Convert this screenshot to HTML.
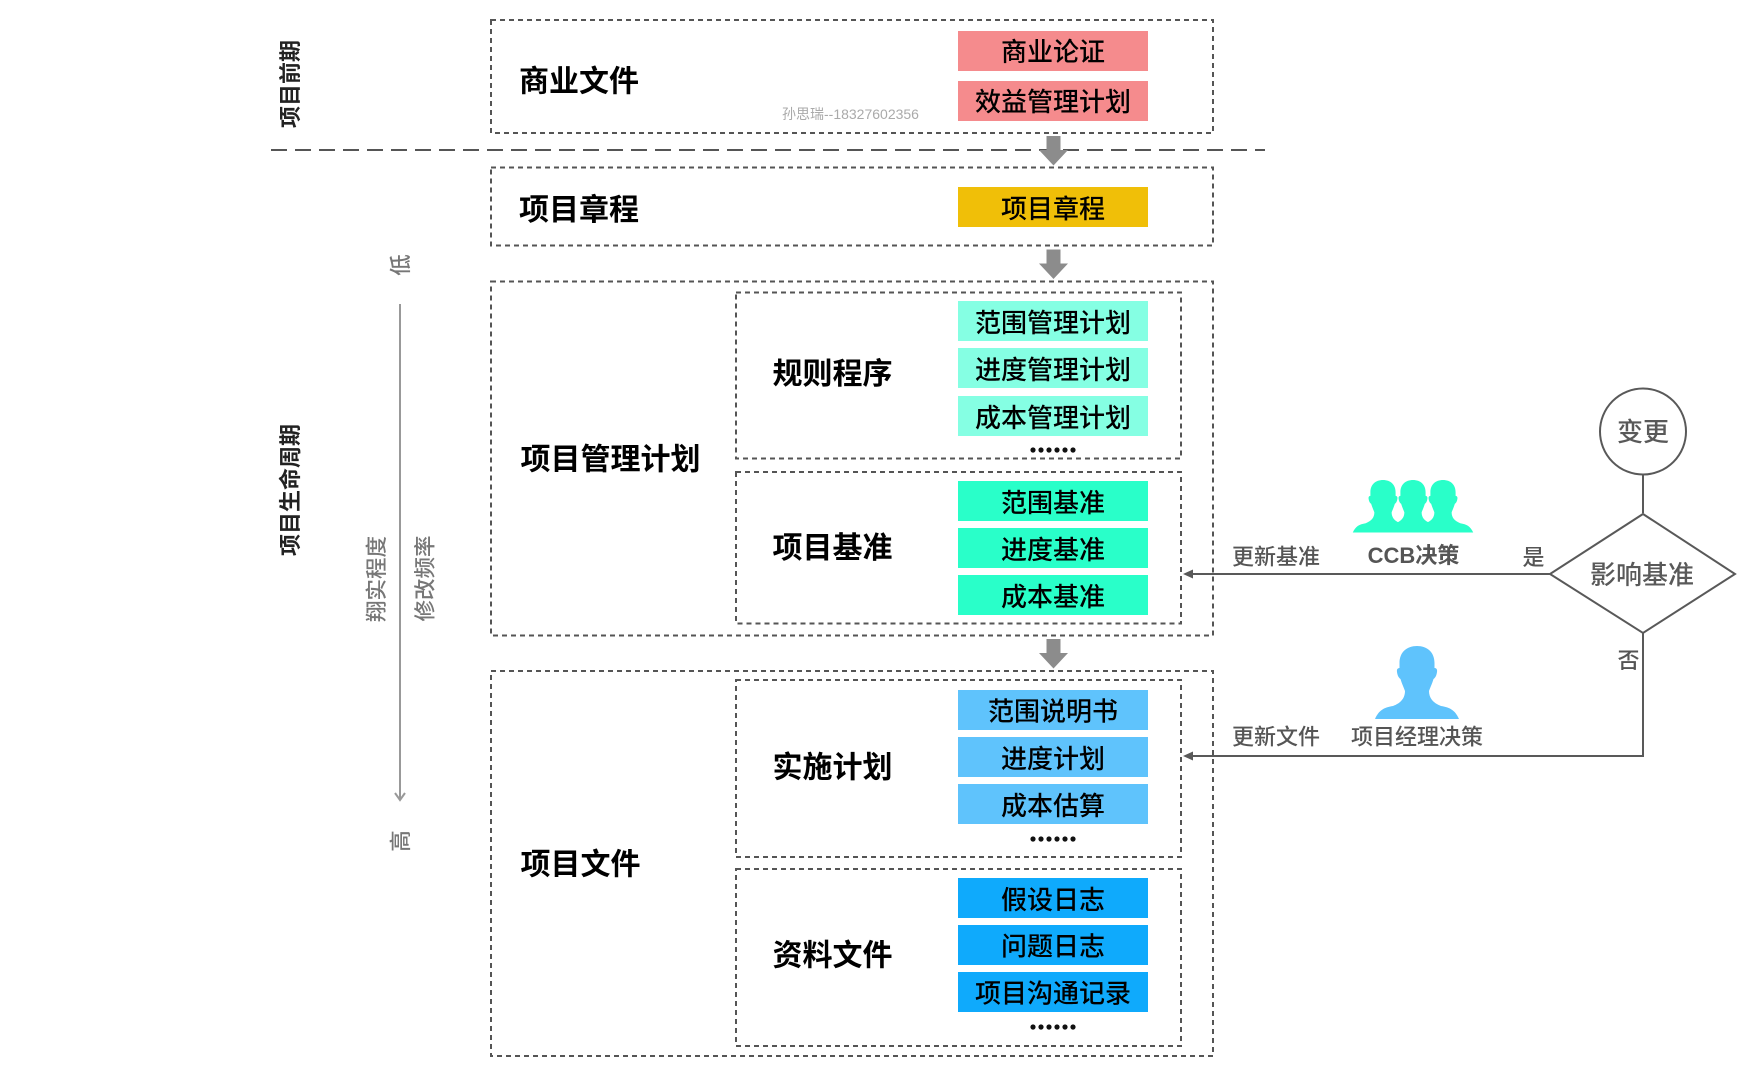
<!DOCTYPE html>
<html><head><meta charset="utf-8"><style>
html,body{margin:0;padding:0;background:#fff}
svg{display:block}
text{font-family:"Liberation Sans","Noto Sans CJK SC",sans-serif}
.d{fill:none;stroke:#555;stroke-width:2;stroke-dasharray:5 4}
.big{font-size:30px;font-weight:700;fill:#000;text-anchor:start}
.c{font-size:26px;font-weight:500;fill:#000;text-anchor:middle}
.g{font-size:22px;font-weight:500;fill:#555;text-anchor:middle}
.v{font-size:22px;font-weight:700;fill:#222;text-anchor:middle}
.q{font-size:21.5px;font-weight:500;fill:#777;text-anchor:middle}
.f{font-size:26px;font-weight:500;fill:#595959;text-anchor:middle}
.dot{fill:#111}
</style></head><body>
<svg width="1756" height="1072" viewBox="0 0 1756 1072" xmlns="http://www.w3.org/2000/svg">
<defs>
<path id="p" d="M0 0C10 0 17.5 6 17.5 17L17.5 22C19 22 20.5 23 20 26C19.5 30 18 32 16.5 33C15 38 13 42 12 45C12 52 16 57 24 60C33 61.5 38 64 42 73L-42 73C-38 64-33 61.5-24 60C-16 57-12 52-12 45C-13 42-15 38-16.5 33C-18 32-19.5 30-20 26C-20.5 23-19 22-17.5 22L-17.5 17C-17.5 6-10 0 0 0Z"/>
<g id="dots" class="dot"><circle cx="-20" r="2.6"/><circle cx="-12" r="2.6"/><circle cx="-4" r="2.6"/><circle cx="4" r="2.6"/><circle cx="12" r="2.6"/><circle cx="20" r="2.6"/></g>
<path id="a" d="M-7 0H7V14H14.5L0 29.5L-14.5 14H-7Z" fill="#8c8c8c"/>
</defs>

<!-- dashed boxes -->
<rect class="d" x="491" y="20" width="722" height="113"/>
<rect class="d" x="491" y="167.5" width="722" height="78"/>
<rect class="d" x="491" y="281.5" width="722" height="354"/>
<rect class="d" x="491" y="671" width="722" height="385"/>
<rect class="d" x="736" y="292.5" width="445" height="166"/>
<rect class="d" x="736" y="472" width="445" height="151.5"/>
<rect class="d" x="736" y="680" width="445" height="177"/>
<rect class="d" x="736" y="869" width="445" height="177"/>

<!-- separator -->
<line x1="271" y1="150" x2="1265" y2="150" stroke="#555" stroke-width="2" stroke-dasharray="16 8"/>

<!-- flow arrows -->
<use href="#a" x="1053.5" y="136"/>
<use href="#a" x="1053.5" y="249.5"/>
<use href="#a" x="1053.5" y="639"/>

<!-- coloured boxes -->
<g fill="#F58B8D"><rect x="958" y="31" width="190" height="40"/><rect x="958" y="81" width="190" height="40"/></g>
<rect x="958" y="187" width="190" height="40" fill="#F0BF08"/>
<g fill="#85FFE3"><rect x="958" y="301" width="190" height="40"/><rect x="958" y="348" width="190" height="40"/><rect x="958" y="396" width="190" height="40"/></g>
<g fill="#29FFC9"><rect x="958" y="481" width="190" height="40"/><rect x="958" y="528" width="190" height="40"/><rect x="958" y="575" width="190" height="40"/></g>
<g fill="#5FC3FC"><rect x="958" y="690" width="190" height="40"/><rect x="958" y="737" width="190" height="40"/><rect x="958" y="784" width="190" height="40"/></g>
<g fill="#0FAAFC"><rect x="958" y="878" width="190" height="40"/><rect x="958" y="925" width="190" height="40"/><rect x="958" y="972" width="190" height="40"/></g>

<!-- box labels -->
<text class="c" x="1053" y="61">商业论证</text>
<text class="c" x="1053" y="111">效益管理计划</text>
<text class="c" x="1053" y="218">项目章程</text>
<text class="c" x="1053" y="332">范围管理计划</text>
<text class="c" x="1053" y="379">进度管理计划</text>
<text class="c" x="1053" y="427">成本管理计划</text>
<text class="c" x="1053" y="512">范围基准</text>
<text class="c" x="1053" y="559">进度基准</text>
<text class="c" x="1053" y="606">成本基准</text>
<text class="c" x="1053" y="720.5">范围说明书</text>
<text class="c" x="1053" y="768">进度计划</text>
<text class="c" x="1053" y="815">成本估算</text>
<text class="c" x="1053" y="909">假设日志</text>
<text class="c" x="1053" y="955.5">问题日志</text>
<text class="c" x="1053" y="1002.5">项目沟通记录</text>
<use href="#dots" x="1053" y="450"/>
<use href="#dots" x="1053" y="839"/>
<use href="#dots" x="1053" y="1027"/>

<!-- section labels -->
<text class="big" x="519" y="91.5">商业文件</text>
<text class="big" x="519" y="220">项目章程</text>
<text class="big" x="520.5" y="469.5">项目管理计划</text>
<text class="big" x="520.5" y="874.5">项目文件</text>
<text class="big" x="772.5" y="384">规则程序</text>
<text class="big" x="772.5" y="558">项目基准</text>
<text class="big" x="772.5" y="777.5">实施计划</text>
<text class="big" x="772.5" y="965.5">资料文件</text>

<text x="782" y="119" font-size="14" fill="#aaa">孙思瑞--18327602356</text>

<!-- vertical labels -->
<text class="v" transform="translate(298,84) rotate(-90)">项目前期</text>
<text class="v" transform="translate(298,490) rotate(-90)">项目生命周期</text>
<text class="q" transform="translate(408,265) rotate(-90)">低</text>
<text class="q" transform="translate(408,841) rotate(-90)">高</text>
<text class="q" transform="translate(384,579) rotate(-90)">翔实程度</text>
<text class="q" transform="translate(432.5,578.5) rotate(-90)">修改频率</text>

<!-- detail axis -->
<line x1="400" y1="304" x2="400" y2="800" stroke="#999" stroke-width="2"/>
<path d="M395 793L400 800L405 793" fill="none" stroke="#999" stroke-width="2"/>

<!-- right flow -->
<ellipse cx="1643" cy="431.5" rx="43" ry="43" fill="#fff" stroke="#595959" stroke-width="2"/>
<line x1="1643" y1="475" x2="1643" y2="513" stroke="#595959" stroke-width="2"/>
<path d="M1643 514L1735 574L1643 633L1550 574Z" fill="#fff" stroke="#595959" stroke-width="2"/>
<path d="M1550 574H1190" fill="none" stroke="#595959" stroke-width="2"/>
<path d="M1643 633V756H1190" fill="none" stroke="#595959" stroke-width="2"/>
<path d="M1183 574L1193 569.5V578.5Z" fill="#595959"/>
<path d="M1183 756L1193 751.5V760.5Z" fill="#595959"/>

<text class="f" x="1643" y="441">变更</text>
<text class="f" x="1642" y="584">影响基准</text>
<text class="g" x="1276" y="564.5">更新基准</text>
<text class="g" x="1276" y="744.5">更新文件</text>
<text class="g" x="1413.5" y="563" style="font-weight:700">CCB决策</text>
<text class="g" x="1417" y="744.5">项目经理决策</text>
<text class="g" x="1533.5" y="565">是</text>
<text class="g" x="1628.5" y="668">否</text>

<!-- people -->
<g fill="#29FFC9"><use href="#p" transform="translate(1383,480) scale(.72)"/><use href="#p" transform="translate(1413,480) scale(.72)"/><use href="#p" transform="translate(1443,480) scale(.72)"/></g>
<use href="#p" transform="translate(1417,646)" fill="#5FC3FC"/>
</svg>
</body></html>
